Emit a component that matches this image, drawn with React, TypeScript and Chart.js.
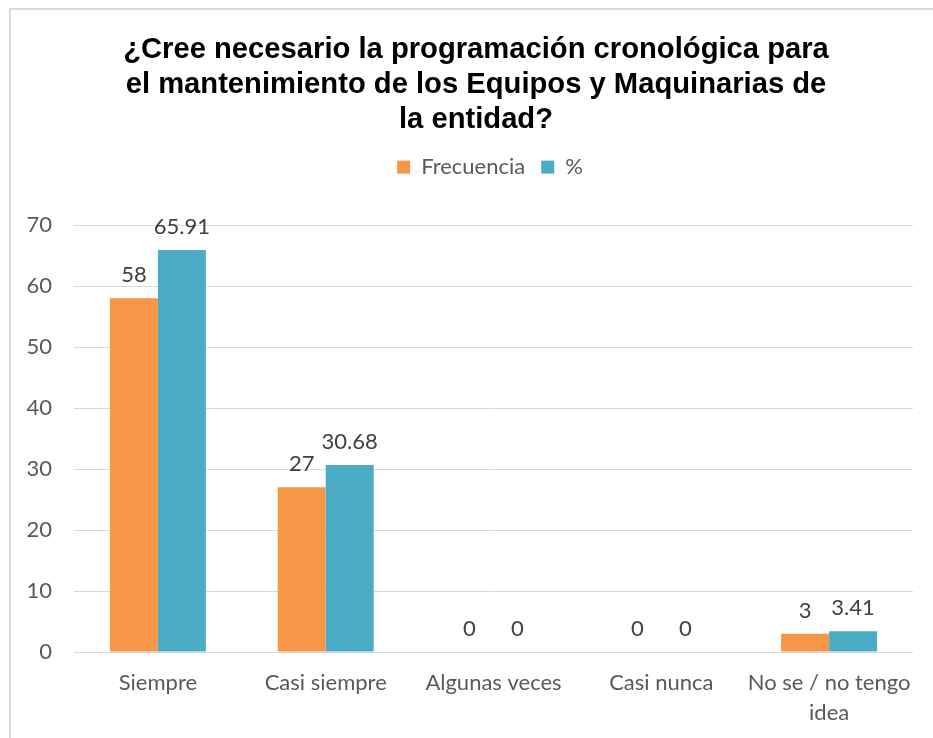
import React, { useEffect, useRef } from "react";
import { Chart, registerables } from "chart.js";

Chart.register(...registerables);

const categories: (string | string[])[] = ["Siempre", "Casi siempre", "Algunas veces", "Casi nunca", ["No se / no tengo", "idea"]];
const frecuencia = [58, 27, 0, 0, 3];
const porcentaje = [65.91, 30.68, 0, 0, 3.41];
const titleLines = [
  "¿Cree necesario la programación cronológica para",
  "el mantenimiento de los Equipos y Maquinarias de",
  "la entidad?",
];

const LABEL_FONT = "Lato, 'Open Sans', sans-serif";

const dataLabels = {
  id: "dataLabels",
  afterDatasetsDraw(chart: any) {
    const ctx = chart.ctx;
    ctx.save();
    ctx.font = `22px ${LABEL_FONT}`;
    ctx.fillStyle = "#404040";
    ctx.textAlign = "center";
    ctx.textBaseline = "alphabetic";
    chart.data.datasets.forEach((ds: any, i: number) => {
      const meta = chart.getDatasetMeta(i);
      meta.data.forEach((bar: any, j: number) => {
        const v = ds.data[j];
        ctx.fillText(String(v), bar.x, bar.y - 16);
      });
    });
    ctx.restore();
  },
};

const legendSpace = {
  id: "legendSpace",
  beforeInit(chart: any) {
    const orig = chart.legend.fit;
    chart.legend.fit = function () {
      orig.bind(chart.legend)();
      this.height += 37;
      if (this.lineWidths && this.lineWidths.length) this.lineWidths[0] -= 57;
    };
  },
  afterLayout(chart: any) {
    if (chart.titleBlock) chart.titleBlock.left += 29;
  },
};

export default function App() {
  const ref = useRef<HTMLCanvasElement>(null);
  useEffect(() => {
    if (!ref.current) return;
    const chart = new Chart(ref.current, {
      type: "bar",
      data: {
        labels: categories,
        datasets: [
          { label: "Frecuencia", data: frecuencia, backgroundColor: "#F79646", categoryPercentage: 0.572, barPercentage: 1 },
          { label: "%", data: porcentaje, backgroundColor: "#4BACC6", categoryPercentage: 0.572, barPercentage: 1 },
        ],
      },
      options: {
        animation: false,
        responsive: false,
        layout: { padding: { left: 10, right: 20, top: 0, bottom: 6 } },
        plugins: {
          tooltip: { enabled: false },
          title: {
            display: true,
            text: titleLines,
            color: "#000000",
            font: { family: "'Liberation Sans', Arial, sans-serif", size: 29.2, weight: "bold", lineHeight: 1.2 },
            padding: { top: 32, bottom: 3 },
          },
          legend: {
            display: true,
            position: "top",
            labels: {
              boxWidth: 13,
              boxHeight: 13,
              color: "#595959",
              font: { family: LABEL_FONT, size: 22 },
              padding: 16,
            },
          },
        },
        scales: {
          x: {
            grid: { display: false, drawTicks: false },
            border: { display: false },
            ticks: {
              color: "#595959",
              font: { family: LABEL_FONT, size: 22, lineHeight: 1.364 },
              padding: 16,
              maxRotation: 0,
              autoSkip: false,
            },
            afterFit(scale: any) {
              scale.height = 80;
            },
          },
          y: {
            min: 0,
            max: 70,
            grid: { color: "#d9d9d9", lineWidth: 1, drawTicks: false },
            border: { display: false },
            ticks: {
              stepSize: 10,
              color: "#595959",
              font: { family: LABEL_FONT, size: 22 },
              padding: 22,
            },
            afterFit(scale: any) {
              scale.width = 64;
            },
          },
        },
      },
      plugins: [dataLabels, legendSpace],
    });
    return () => chart.destroy();
  }, []);

  return (
    <div style={{ position: "absolute", left: 0, top: 0, width: 933, height: 738, overflow: "hidden", background: "#fff" }}>
      <div
        style={{
          position: "absolute",
          left: 9,
          top: 8,
          width: 1000,
          height: 1000,
          borderLeft: "2px solid #d9d9d9",
          borderTop: "2px solid #d9d9d9",
        }}
      />
      <canvas ref={ref} width={933} height={738} style={{ position: "absolute", left: 0, top: 0 }} />
    </div>
  );
}
